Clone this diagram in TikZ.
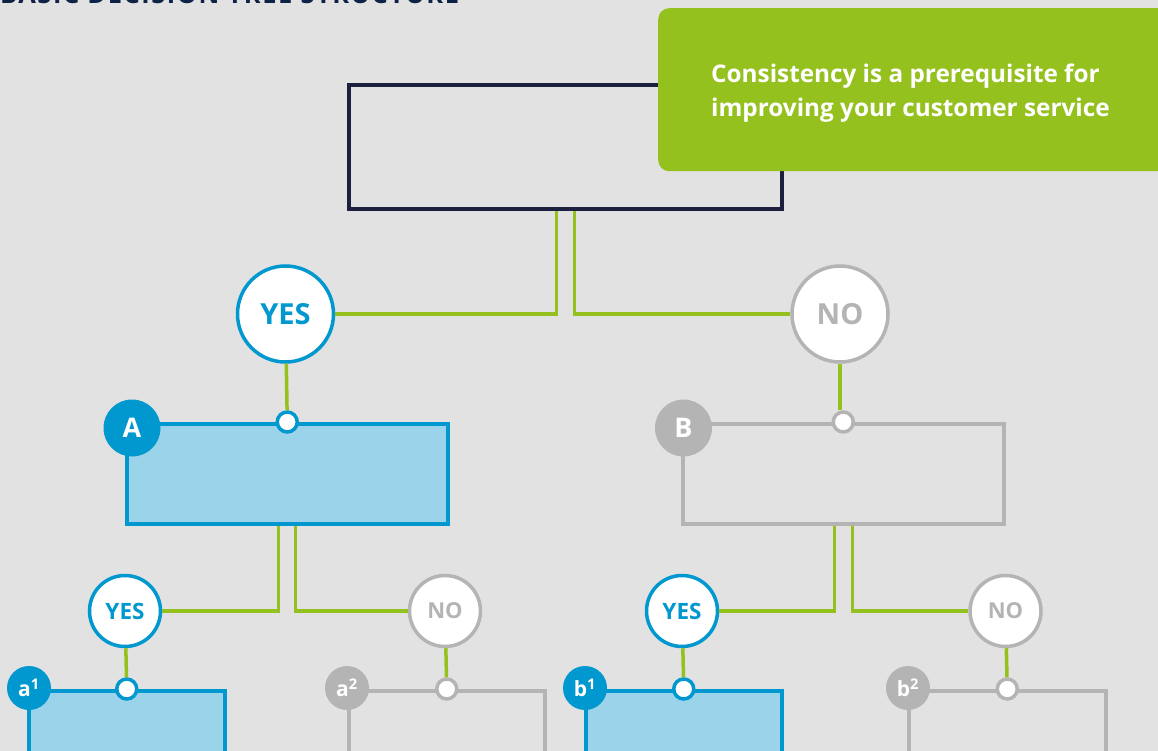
\documentclass[tikz,border=0pt]{standalone}
\usepackage{fontspec}
\setmainfont{Open Sans}
\newfontfamily\titlefont[LetterSpace=6]{Open Sans}
\usetikzlibrary{calc}
\definecolor{bg}{HTML}{E2E2E2}
\definecolor{lime}{HTML}{95C11F}
\definecolor{navy}{HTML}{1C1F3D}
\definecolor{titlenavy}{HTML}{0E2245}
\definecolor{bblue}{HTML}{0098CE}
\definecolor{lblue}{HTML}{9AD3EA}
\definecolor{lgray}{HTML}{B4B4B4}
\tikzset{
  gl/.style={draw=lime, line width=3.5pt},
  topbox/.style={draw=navy, line width=3.5pt, rectangle, minimum width=433pt, minimum height=124pt, inner sep=0pt},
  bluebox/.style={draw=bblue, fill=lblue, line width=3.5pt, rectangle, inner sep=0pt, anchor=north west},
  graybox/.style={draw=lgray, line width=3.5pt, rectangle, inner sep=0pt, anchor=north west},
  yesc/.style={circle, draw=bblue, fill=white, line width=3.5pt, text=bblue, inner sep=0pt},
  noc/.style={circle, draw=lgray, fill=white, line width=3.5pt, text=lgray, inner sep=0pt},
  bdot/.style={circle, draw=bblue, fill=white, line width=3.5pt, minimum size=20pt, inner sep=0pt},
  gdot/.style={circle, draw=lgray, fill=white, line width=3.5pt, minimum size=20pt, inner sep=0pt},
  bbadge/.style={circle, fill=bblue, text=white, inner sep=0pt},
  gbadge/.style={circle, fill=lgray, text=white, inner sep=0pt},
}
\begin{document}
\begin{tikzpicture}[x=1pt,y=-1pt]
\useasboundingbox (0,0) rectangle (1158,751);
\clip (0,0) rectangle (1158,751);
\fill[bg] (0,0) rectangle (1158,751);
% title (cut off at the top edge, as in the reference)
\node[anchor=base west, inner sep=0pt, text=titlenavy, font=\titlefont\bfseries\fontsize{25.5}{25.5}\selectfont] (title) at (0,4) {BASIC DECISION TREE STRUCTURE};
% top box
\node[topbox] (top) at (565.5,147) {};
% green note
\node[fill=lime, rounded corners=11pt, minimum width=520pt, minimum height=163pt, anchor=north west, inner sep=0pt] (note) at (658,8) {};
\node[anchor=base west, align=left, text=white, font=\bfseries\fontsize{24.3}{34}\selectfont, inner sep=0pt] (notetext) at (711,117) {Consistency is a prerequisite for\\improving your customer service};
% level 1
\node[yesc, minimum size=96pt, font=\bfseries\fontsize{29}{29}\selectfont] (yes1) at (285.5,314) {YES};
\node[noc, minimum size=96pt, font=\bfseries\fontsize{29}{29}\selectfont] (no1) at (840,314) {NO};
% level 2 boxes
\node[bluebox, minimum width=321pt, minimum height=100pt] (A) at (125,422) {};
\node[graybox, minimum width=321pt, minimum height=100pt] (B) at (681,422) {};
\node[bdot] (dA) at (A.north) {};
\node[gdot] (dB) at (B.north) {};
\node[bbadge, minimum size=57pt, font=\bfseries\fontsize{27}{27}\selectfont] (bA) at (132,428) {A};
\node[gbadge, minimum size=57pt, font=\bfseries\fontsize{27}{27}\selectfont] (bB) at (683.5,428) {B};
% level 3 circles
\node[yesc, minimum size=71pt, font=\bfseries\fontsize{22.5}{22.5}\selectfont] (yes2) at (125,611) {YES};
\node[noc, minimum size=71pt, font=\bfseries\fontsize{22}{22}\selectfont] (no2) at (445,611) {NO};
\node[yesc, minimum size=71pt, font=\bfseries\fontsize{22.5}{22.5}\selectfont] (yes3) at (682,611) {YES};
\node[noc, minimum size=71pt, font=\bfseries\fontsize{22}{22}\selectfont] (no3) at (1005.5,611) {NO};
% level 3 boxes
\node[bluebox, minimum width=196pt, minimum height=100pt] (a1) at (27,689) {};
\node[graybox, minimum width=196pt, minimum height=100pt] (a2) at (347,689) {};
\node[bluebox, minimum width=196pt, minimum height=100pt] (b1) at (584,689) {};
\node[graybox, minimum width=197pt, minimum height=100pt] (b2) at (907,689) {};
\node[bdot] (da1) at (a1.north) {};
\node[gdot] (da2) at (a2.north) {};
\node[bdot] (db1) at (b1.north) {};
\node[gdot] (db2) at (b2.north) {};
\node[bbadge, minimum size=44pt, font=\bfseries\fontsize{21}{21}\selectfont] (ba1) at (29,688) {a\textsuperscript{1}};
\node[gbadge, minimum size=44pt, font=\bfseries\fontsize{21}{21}\selectfont] (ba2) at (347,688) {a\textsuperscript{2}};
\node[bbadge, minimum size=44pt, font=\bfseries\fontsize{21}{21}\selectfont] (bb1) at (585,688) {b\textsuperscript{1}};
\node[gbadge, minimum size=44pt, font=\bfseries\fontsize{21}{21}\selectfont] (bb2) at (908,688) {b\textsuperscript{2}};
% connectors
\draw[gl] ($(top.south)+(-9,0)$) |- (yes1);
\draw[gl] ($(top.south)+(9,0)$) |- (no1);
\draw[gl] (yes1) -- (dA);
\draw[gl] (no1.south) -- (no1.south |- dB.north);
\draw[gl] ($(A.south)+(-9,0)$) |- (yes2);
\draw[gl] ($(A.south)+(8,0)$) |- (no2);
\draw[gl] ($(B.south)+(-9,0)$) |- (yes3);
\draw[gl] ($(B.south)+(9,0)$) |- (no3);
\draw[gl] (yes2) -- (da1);
\draw[gl] (no2) -- (da2);
\draw[gl] (yes3) -- (db1);
\draw[gl] (no3) -- (db2);
\end{tikzpicture}
\end{document}
